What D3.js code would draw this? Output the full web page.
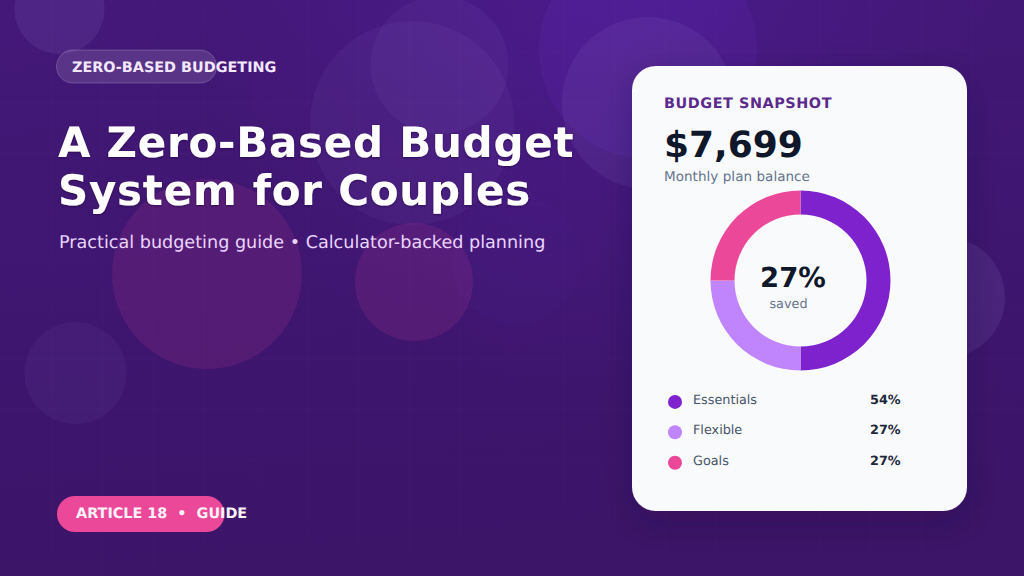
<!DOCTYPE html>
<html><head><meta charset="utf-8">
<script src="https://cdn.jsdelivr.net/npm/d3@7"></script>
<style>html,body{margin:0;padding:0;background:#3b1266;overflow:hidden}svg{display:block}text{font-family:"DejaVu Sans",sans-serif;text-rendering:geometricPrecision}</style>
</head><body><svg id="c" width="1024" height="576"></svg>
<script>
const categories = ["Essentials", "Flexible", "Goals"];
const shares = [54, 27, 27];
const headline = ["A Zero-Based Budget", "System for Couples"];
const savedLabel = "27%";
const balanceLabel = "$7,699";

const svg = d3.select("#c");
const defs = svg.append("defs");
const grad = defs.append("linearGradient").attr("id","bg").attr("x1",0).attr("y1",0).attr("x2",0.15).attr("y2",1);
grad.append("stop").attr("offset",0).attr("stop-color","#431879");
grad.append("stop").attr("offset",0.5).attr("stop-color","#3f1670");
grad.append("stop").attr("offset",1).attr("stop-color","#3c1468");
const glow = defs.append("radialGradient").attr("id","glow").attr("gradientUnits","userSpaceOnUse").attr("cx",600).attr("cy",0).attr("r",400);
glow.append("stop").attr("offset",0).attr("stop-color","#6d28d9").attr("stop-opacity",0.2);
glow.append("stop").attr("offset",1).attr("stop-color","#6d28d9").attr("stop-opacity",0);
const sh = defs.append("filter").attr("id","cardShadow").attr("x","-30%").attr("y","-30%").attr("width","160%").attr("height","160%");
sh.append("feDropShadow").attr("dx",0).attr("dy",10).attr("stdDeviation",16).attr("flood-color","#12032a").attr("flood-opacity",0.25);
const ts = defs.append("filter").attr("id","titleShadow").attr("x","-5%").attr("y","-20%").attr("width","110%").attr("height","140%");
ts.append("feDropShadow").attr("dx",0).attr("dy",1).attr("stdDeviation",1).attr("flood-color","#1a0638").attr("flood-opacity",0.6);

svg.append("rect").attr("width",1024).attr("height",576).attr("fill","url(#bg)");
svg.append("rect").attr("width",1024).attr("height",576).attr("fill","url(#glow)");

const bubble = (cx,cy,r,fill,op)=>svg.append("circle").attr("cx",cx).attr("cy",cy).attr("r",r).attr("fill",fill).attr("fill-opacity",op);
bubble(648,50,109,"#7c3aed",0.1);
bubble(690,-25,66,"#7c3aed",0.02);
bubble(516,260,65,"#7c3aed",0.035);
bubble(59.5,9,45,"#c4b5fd",0.09);
bubble(412,123,102,"#c4b5fd",0.05);
bubble(439.5,65,69,"#c4b5fd",0.05);
bubble(648,103,86,"#c4b5fd",0.07);
bubble(207,274,95,"#ec4899",0.12);
bubble(414,282,59,"#ec4899",0.12);
bubble(75.5,373,51,"#c4b5fd",0.05);
bubble(944.5,297.5,60.5,"#c4b5fd",0.09);

const gx = d3.range(1,20).map(i=>i*51.2), gy = d3.range(1,12).map(i=>i*51.2);
svg.append("g").selectAll("line").data(gx).join("line").attr("x1",d=>d).attr("x2",d=>d).attr("y1",0).attr("y2",576).attr("stroke","#fff").attr("stroke-opacity",0.02);
svg.append("g").selectAll("line").data(gy).join("line").attr("y1",d=>d).attr("y2",d=>d).attr("x1",0).attr("x2",1024).attr("stroke","#fff").attr("stroke-opacity",0.02);

const label=(x,y,t,size,weight,fill,ls=0,anchor="start")=>svg.append("text").attr("x",x).attr("y",y).text(t).attr("font-size",size).attr("font-weight",weight).attr("fill",fill).attr("letter-spacing",ls).attr("text-anchor",anchor);

svg.append("rect").attr("x",56.5).attr("y",50).attr("width",160).attr("height",33).attr("rx",16.5).attr("fill","#fff").attr("fill-opacity",0.12).attr("stroke","#fff").attr("stroke-opacity",0.2);
label(72,72,"ZERO-BASED BUDGETING",14.4,700,"#f3e8ff",0);

headline.forEach((t,i)=>label(58,156.5+i*48.5,t,42,700,"#ffffff",0.74).attr("filter","url(#titleShadow)"));
label(59,248,"Practical budgeting guide • Calculator-backed planning",17.6,400,"#e9d5ff",0);

svg.append("rect").attr("x",57).attr("y",496).attr("width",167.5).attr("height",36).attr("rx",18).attr("fill","#ec4899");
label(76,518,"ARTICLE 18  •  GUIDE",14.4,700,"#fdf2f8",0).style("white-space","pre");

svg.append("rect").attr("x",632).attr("y",66).attr("width",335).attr("height",445).attr("rx",24).attr("fill","#f9fafc").attr("filter","url(#cardShadow)");
label(664,108,"BUDGET SNAPSHOT",14.4,700,"#5b2a8c",0.56);
label(664,157,balanceLabel,36,700,"#0f172a",0);
label(664,181,"Monthly plan balance",13.5,400,"#64748b",0.05);

const colour = d3.scaleOrdinal().domain(categories).range(["#7e22ce","#c084fc","#ec4899"]);
const pie = d3.pie().sort(null).value(d=>d.value);
const arc = d3.arc().innerRadius(66).outerRadius(90);
const rows = categories.map((name,i)=>({name,value:shares[i]}));
svg.append("g").attr("transform","translate(800.5,280.5)").selectAll("path").data(pie(rows)).join("path").attr("d",arc).attr("fill",d=>colour(d.data.name));
label(793,286.5,savedLabel,27.5,700,"#0f172a",0,"middle");
label(788.5,308,"saved",12.8,400,"#64748b",0,"middle");

const rowY = d3.scalePoint().domain(categories).range([399.4,460.2]);
const g = svg.append("g").selectAll("g").data(rows).join("g");
g.append("circle").attr("cx",675).attr("cy",d=>rowY(d.name)+2.5).attr("r",7).attr("fill",d=>colour(d.name));
g.append("text").attr("x",693).attr("y",d=>rowY(d.name)+4.5).text(d=>d.name).attr("font-size",12.8).attr("fill","#475569");
g.append("text").attr("x",870).attr("y",d=>rowY(d.name)+4.5).text(d=>d.value+"%").attr("font-size",12.8).attr("font-weight",700).attr("fill","#1e293b");
</script></body></html>
